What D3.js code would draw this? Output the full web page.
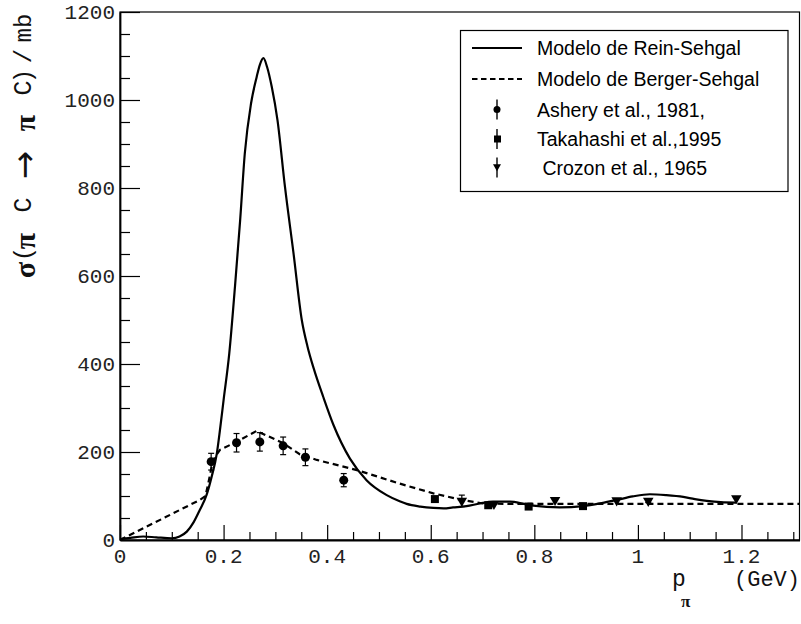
<!DOCTYPE html>
<html><head><meta charset="utf-8">
<script src="https://cdn.jsdelivr.net/npm/d3@7"></script>
<style>body{margin:0;background:#fff}svg{display:block}</style>
</head><body><svg id="c" width="801" height="624"></svg>
<script>
// ---- data ----
const reinX = [0,0.02,0.045,0.07,0.1,0.115,0.129,0.142,0.154,0.167,0.177,0.187,0.193,0.2,0.211,0.222,0.232,0.241,0.253,0.264,0.270,0.277,0.284,0.293,0.304,0.3185,0.335,0.351,0.362,0.374,0.3925,0.412,0.444,0.476,0.515,0.54,0.5535,0.58,0.605,0.625,0.643,0.669,0.695,0.72,0.753,0.78,0.798,0.849,0.894,0.93,0.959,0.99,1.023,1.055,1.0875,1.11,1.133,1.16,1.19];
const reinY = [2,5,8,6,4,8,19,40,68,102,144,197,250,318,424,576,727,879,992,1053,1080,1095,1075,1030,955,803,652,500,440,390,325,262,185,136,102,88,82,76,73,72,74,77,83,87,87,82,78,74,77,84,91,99,104,102,98,93,89,86,85];
const bergerX = [0,0.154,0.165,0.1705,0.177,0.1834,0.193,0.225,0.2638,0.315,0.347,0.38,0.444,0.46,0.5405,0.605,0.656,0.701,0.75,1.312];
const bergerY = [0,91,100,129,167,189,205,223,248,220,195,182,163,158,128,106,92,83,82,82];
const asheryX = [0.176,0.225,0.270,0.315,0.358,0.432];
const asheryY = [178,221,223,214,188,136];
const asheryErr = [19,21,21,20,19,15];
const takaX = [0.608,0.711,0.789,0.894];
const takaY = [93,79,76,77];
const takaErr = [0,0,0,0];
const crozX = [0.660,0.722,0.840,0.959,1.020,1.190];
const crozY = [89,82,91,90,89,95];
const crozErr = [13,0,0,0,4,0];
const xTicks = [0,0.2,0.4,0.6,0.8,1,1.2];
const xTickLabels = ["0","0.2","0.4","0.6","0.8","1","1.2"];
const yTicks = [0,200,400,600,800,1000,1200];
const legendLabels = ["Modelo de Rein-Sehgal","Modelo de Berger-Sehgal","Ashery et al., 1981,","Takahashi et al.,1995"," Crozon et al., 1965"];
const yTitleTokens = ["σ","(","π","C","→","π","C",")","/","mb"];

// ---- layout ----
const svg = d3.select("#c");
const L=120,R=799.5,T=12,B=540;
const x = d3.scaleLinear().domain([0,1.312]).range([L,R]);
const y = d3.scaleLinear().domain([0,1200]).range([B,T]);
const mono = "'Liberation Mono','Courier New',monospace";
const serif = "'Liberation Serif','DejaVu Serif',serif";

// frame
svg.append("rect").attr("x",L).attr("y",T).attr("width",R-L).attr("height",B-T)
  .attr("fill","none").attr("stroke","#000").attr("stroke-width",1.2);

// y axis
const yAx = d3.axisRight(y).tickValues(d3.range(0,1201,50)).tickSize(0).tickFormat("");
const gy = svg.append("g").attr("transform",`translate(${L},0)`).call(yAx);
gy.select(".domain").attr("stroke","#000").attr("stroke-width",1.8);
gy.selectAll(".tick line").attr("x2",d=>d%200===0?20:10).attr("stroke","#000").attr("stroke-width",1.2);
svg.append("g").selectAll("text").data(yTicks).join("text")
  .attr("x",L-5).attr("y",d=>y(d)+1).attr("text-anchor","end").attr("dominant-baseline","central")
  .attr("font-family",mono).attr("font-size",21).attr("fill","#222").text(d=>d);

// x axis
const xAx = d3.axisTop(x).tickValues(d3.range(0,1.3001,0.05)).tickSize(0).tickFormat("");
const gx = svg.append("g").attr("transform",`translate(0,${B})`).call(xAx);
gx.select(".domain").attr("stroke","#000").attr("stroke-width",1.8);
gx.selectAll(".tick line").attr("y2",d=>Math.abs(Math.round(d*20)%4)===0?-15:-8).attr("stroke","#000").attr("stroke-width",1.2);
svg.append("g").selectAll("text").data(xTicks).join("text")
  .attr("x",d=>x(d)).attr("y",563).attr("text-anchor","middle")
  .attr("font-family",mono).attr("font-size",21).attr("fill","#222").text((d,i)=>xTickLabels[i]);

// y axis title (token by token, rotated)
const tokPos = [270,254,241,205,165,123,88,76,56,28];
const tokFont = [serif,mono,serif,mono,"'DejaVu Sans',sans-serif",serif,mono,mono,mono,mono];
const tokSize = [30,24,30,25,34,30,25,24,24,24];
const tokWeight = [700,400,700,400,400,700,400,400,400,400];
svg.append("g").selectAll("text").data(yTitleTokens).join("text")
  .attr("transform",(d,i)=>`translate(24,${tokPos[i]}) rotate(-90)`)
  .attr("text-anchor","middle").attr("dominant-baseline","central")
  .attr("font-family",(d,i)=>tokFont[i]).attr("font-size",(d,i)=>tokSize[i]).attr("font-weight",(d,i)=>tokWeight[i])
  .attr("fill","#111").text(d=>d);

// x axis title
svg.append("text").attr("x",672).attr("y",586).attr("font-family",mono).attr("font-size",23).attr("fill","#111").text("p");
svg.append("text").attr("x",681).attr("y",607).attr("font-family",serif).attr("font-weight",700).attr("font-size",17).attr("fill","#111").text("π");
svg.append("text").attr("x",800).attr("y",586).attr("text-anchor","end").attr("font-family",mono).attr("font-size",22).attr("fill","#111").text("(GeV)");

// curves
svg.append("clipPath").attr("id","pc").append("rect").attr("x",L).attr("y",T).attr("width",R-L).attr("height",B-T);
svg.append("path").datum(reinX.map((v,i)=>[v,reinY[i]]))
  .attr("d",d3.line().x(d=>x(d[0])).y(d=>y(d[1])).curve(d3.curveMonotoneX))
  .attr("fill","none").attr("stroke","#000").attr("stroke-width",2.2).attr("clip-path","url(#pc)");
svg.append("path").datum(bergerX.map((v,i)=>[v,bergerY[i]]))
  .attr("d",d3.line().x(d=>x(d[0])).y(d=>y(d[1]))).attr("fill","none").attr("stroke","#000")
  .attr("stroke-width",2.2).attr("stroke-dasharray","6,4").attr("clip-path","url(#pc)");

// data points
function errBars(X,Y,E){
  const g=svg.append("g").attr("stroke","#000").attr("stroke-width",1.2);
  X.forEach((v,i)=>{ if(E[i]<=0) return;
    const cx=x(v), y1=y(Y[i]-E[i]), y2=y(Y[i]+E[i]);
    g.append("line").attr("x1",cx).attr("x2",cx).attr("y1",y1).attr("y2",y2);
    g.append("line").attr("x1",cx-3).attr("x2",cx+3).attr("y1",y1).attr("y2",y1);
    g.append("line").attr("x1",cx-3).attr("x2",cx+3).attr("y1",y2).attr("y2",y2);
  });
}
errBars(asheryX,asheryY,asheryErr);
errBars(takaX,takaY,takaErr);
errBars(crozX,crozY,crozErr);
svg.append("g").selectAll("circle").data(asheryX).join("circle")
  .attr("cx",d=>x(d)).attr("cy",(d,i)=>y(asheryY[i])).attr("r",4.5).attr("fill","#000");
svg.append("g").selectAll("rect").data(takaX).join("rect")
  .attr("x",d=>x(d)-4).attr("y",(d,i)=>y(takaY[i])-4).attr("width",8).attr("height",8).attr("fill","#000");
const tri = d3.symbol().type(d3.symbolTriangle).size(48);
svg.append("g").selectAll("path").data(crozX).join("path")
  .attr("d",tri).attr("transform",(d,i)=>`translate(${x(d)},${y(crozY[i])}) rotate(180)`).attr("fill","#000");

// legend
const lg = svg.append("g");
lg.append("rect").attr("x",460.5).attr("y",30.5).attr("width",327.5).attr("height",161)
  .attr("fill","#fff").attr("stroke","#000").attr("stroke-width",1.2);
const rows=[48,79,109.5,139,167.5];
lg.append("line").attr("x1",472).attr("x2",522).attr("y1",rows[0]).attr("y2",rows[0]).attr("stroke","#000").attr("stroke-width",2.2);
lg.append("line").attr("x1",472).attr("x2",522).attr("y1",rows[1]).attr("y2",rows[1]).attr("stroke","#000").attr("stroke-width",2.2).attr("stroke-dasharray","5.5,3.5");
[2,3,4].forEach(k=>{
  lg.append("line").attr("x1",497).attr("x2",497).attr("y1",rows[k]-10).attr("y2",rows[k]+10).attr("stroke","#000").attr("stroke-width",1.4);
});
lg.append("circle").attr("cx",497).attr("cy",rows[2]).attr("r",3.5).attr("fill","#000");
lg.append("rect").attr("x",494).attr("y",rows[3]-3.5).attr("width",7).attr("height",7).attr("fill","#000");
lg.append("path").attr("d",d3.symbol().type(d3.symbolTriangle).size(28)).attr("transform",`translate(497,${rows[4]-1}) rotate(180)`).attr("fill","#000");
lg.selectAll("text").data(legendLabels).join("text")
  .attr("x",537).attr("y",(d,i)=>rows[i]+7).attr("font-family","'Liberation Sans',Arial,sans-serif")
  .attr("font-size",19.5).attr("fill","#000").attr("xml:space","preserve").style("white-space","pre").text(d=>d);
</script></body></html>
